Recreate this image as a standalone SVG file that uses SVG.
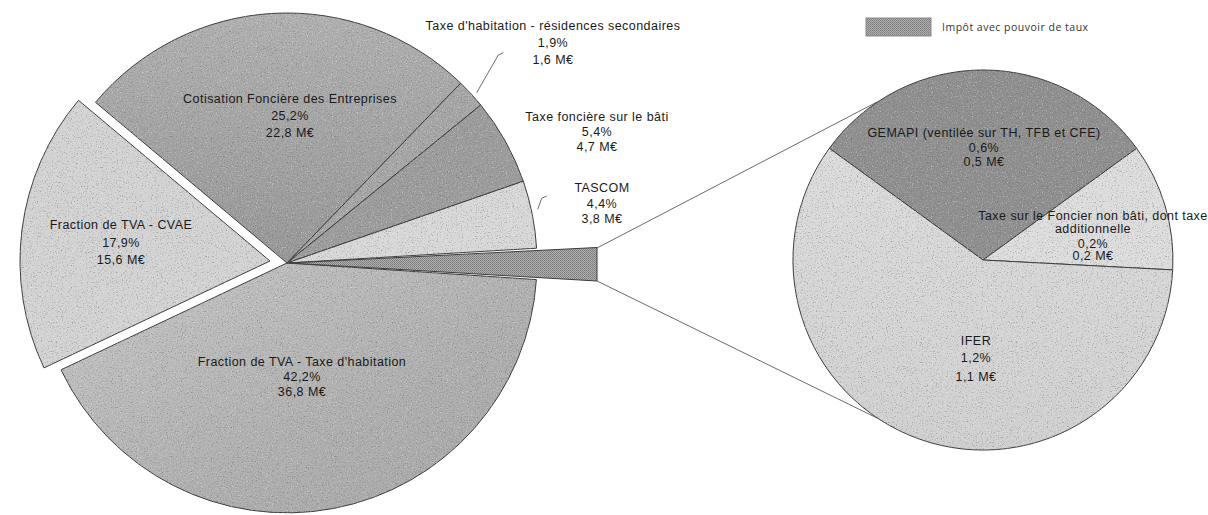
<svg xmlns="http://www.w3.org/2000/svg" width="1208" height="515" viewBox="0 0 1208 515">
<style>
  .lbl { font-family: "Liberation Sans", Arial, sans-serif; font-size: 12.5px; letter-spacing: 0.45px; fill: #1a1a1a; text-anchor: middle; }
  .slice { stroke: #3c3c3c; stroke-width: 1; stroke-linejoin: round; filter: url(#grain); }
  .conn { fill: none; stroke: #5a5a5a; stroke-width: 0.9; }
  .legend { font-family: "Open Sans", "Liberation Sans", sans-serif; font-size: 10.5px; letter-spacing: 0.5px; fill: #333; }
</style>
<defs>
  <pattern id="hatch" width="2" height="2" patternUnits="userSpaceOnUse">
    <rect width="2" height="2" fill="#b0b0b0"/>
    <rect width="1" height="1" fill="#7a7a7a"/>
    <rect x="1" y="1" width="1" height="1" fill="#868686"/>
  </pattern>
  <linearGradient id="gCFE" x1="0" y1="0" x2="0" y2="1">
    <stop offset="0" stop-color="#b0b0b0"/>
    <stop offset="1" stop-color="#979797"/>
  </linearGradient>
  <linearGradient id="gTH" x1="0" y1="0" x2="1" y2="1">
    <stop offset="0" stop-color="#c6c6c6"/>
    <stop offset="0.6" stop-color="#afafaf"/>
    <stop offset="1" stop-color="#a6a6a6"/>
  </linearGradient>
  <linearGradient id="gIFER" x1="0" y1="0" x2="0" y2="1">
    <stop offset="0" stop-color="#dcdcdc"/>
    <stop offset="1" stop-color="#d0d0d0"/>
  </linearGradient>
  <filter id="grain" x="-2%" y="-2%" width="104%" height="104%" color-interpolation-filters="sRGB">
    <feTurbulence type="fractalNoise" baseFrequency="0.8" numOctaves="2" seed="5" result="noise"/>
    <feColorMatrix in="noise" type="matrix" values="0 0 0 0 0.33  0 0 0 0 0.33  0 0 0 0 0.33  1.5 0 0 0 -0.85" result="dark"/>
    <feColorMatrix in="noise" type="matrix" values="0 0 0 0 0.96  0 0 0 0 0.96  0 0 0 0 0.96  0 -1.5 0 0 0.65" result="light"/>
    <feComposite in="dark" in2="SourceGraphic" operator="in" result="darkIn"/>
    <feComposite in="light" in2="SourceGraphic" operator="in" result="lightIn"/>
    <feMerge>
      <feMergeNode in="SourceGraphic"/>
      <feMergeNode in="darkIn"/>
      <feMergeNode in="lightIn"/>
    </feMerge>
  </filter>
</defs>
<rect width="1208" height="515" fill="#ffffff"/>

<g id="connectors">
  <line class="conn" x1="597" y1="248" x2="877" y2="102"/>
  <line class="conn" x1="597" y1="281" x2="877" y2="418"/>
  <polyline class="conn" points="476.7,92.7 498.3,55 503.3,52.7"/>
  <polyline class="conn" points="537.7,209.3 541.7,198.3 546.7,196"/>
</g>

<g id="slice-th">
  <path class="slice" fill="url(#gTH)" d="M287,263 L536.4,279.6 A250,250 0 0 1 61,369.8 Z"/>
  <text class="lbl" x="302" y="366">Fraction de TVA - Taxe d'habitation</text>
  <text class="lbl" x="302" y="381">42,2%</text>
  <text class="lbl" x="302" y="396">36,8 M€</text>
</g>

<g id="slice-cvae">
  <path class="slice" fill="#d3d3d3" d="M270,261 L44,367.9 A250,250 0 0 1 78.5,100.3 Z"/>
  <text class="lbl" x="121" y="228.5">Fraction de TVA - CVAE</text>
  <text class="lbl" x="121" y="246.5">17,9%</text>
  <text class="lbl" x="121" y="263.5">15,6 M€</text>
</g>

<g id="slice-cfe">
  <path class="slice" fill="url(#gCFE)" d="M287,263 L95.5,102.3 A250,250 0 0 1 460.7,83.2 Z"/>
  <text class="lbl" x="290" y="102.5">Cotisation Foncière des Entreprises</text>
  <text class="lbl" x="290" y="119.5">25,2%</text>
  <text class="lbl" x="290" y="136.5">22,8 M€</text>
</g>

<g id="slice-thrs">
  <path class="slice" fill="#a6a6a6" d="M287,263 L460.7,83.2 A250,250 0 0 1 480.7,105 Z"/>
  <text class="lbl" x="553" y="29.5">Taxe d'habitation - résidences secondaires</text>
  <text class="lbl" x="553" y="46.5">1,9%</text>
  <text class="lbl" x="553" y="63.5">1,6 M€</text>
</g>

<g id="slice-tfb">
  <path class="slice" fill="#9c9c9c" d="M287,263 L480.7,105 A250,250 0 0 1 523.3,181.2 Z"/>
  <text class="lbl" x="597" y="120.5">Taxe foncière sur le bâti</text>
  <text class="lbl" x="597" y="135.5">5,4%</text>
  <text class="lbl" x="597" y="150.5">4,7 M€</text>
</g>

<g id="slice-tascom">
  <path class="slice" fill="#d8d8d8" d="M287,263 L523.3,181.2 A250,250 0 0 1 536.6,248.2 Z"/>
  <text class="lbl" x="602" y="191.5">TASCOM</text>
  <text class="lbl" x="602" y="207.5">4,4%</text>
  <text class="lbl" x="602" y="222.5">3,8 M€</text>
</g>

<g id="slice-other">
  <path class="slice" fill="url(#hatch)" style="filter:none" d="M289,263 L597,247.5 L597,281 Z"/>
</g>

<g id="slice-gemapi">
  <path class="slice" fill="#8f8f8f" d="M983,260 L829.3,148.3 A190,190 0 0 1 1136.7,148.3 Z"/>
  <text class="lbl" x="984" y="136.5">GEMAPI (ventilée sur TH, TFB et CFE)</text>
  <text class="lbl" x="984" y="151.5">0,6%</text>
  <text class="lbl" x="984" y="165.5">0,5 M€</text>
</g>

<g id="slice-tfnb">
  <path class="slice" fill="#dddddd" d="M983,260 L1136.7,148.3 A190,190 0 0 1 1172.7,269.9 Z"/>
  <text class="lbl" x="1093" y="219.5">Taxe sur le Foncier non bâti, dont taxe</text>
  <text class="lbl" x="1093" y="232.5">additionnelle</text>
  <text class="lbl" x="1093" y="247.5">0,2%</text>
  <text class="lbl" x="1093" y="259.5">0,2 M€</text>
</g>

<g id="slice-ifer">
  <path class="slice" fill="url(#gIFER)" d="M983,260 L1172.7,269.9 A190,190 0 1 1 829.3,148.3 Z"/>
  <text class="lbl" x="976" y="344.5">IFER</text>
  <text class="lbl" x="976" y="361.5">1,2%</text>
  <text class="lbl" x="976" y="380.5">1,1 M€</text>
</g>

<g id="legend">
  <rect x="866" y="18" width="65" height="18" fill="url(#hatch)" stroke="#8a8a8a" stroke-width="1"/>
  <text class="legend" x="942" y="30.5">Impôt avec pouvoir de taux</text>
</g>
</svg>
